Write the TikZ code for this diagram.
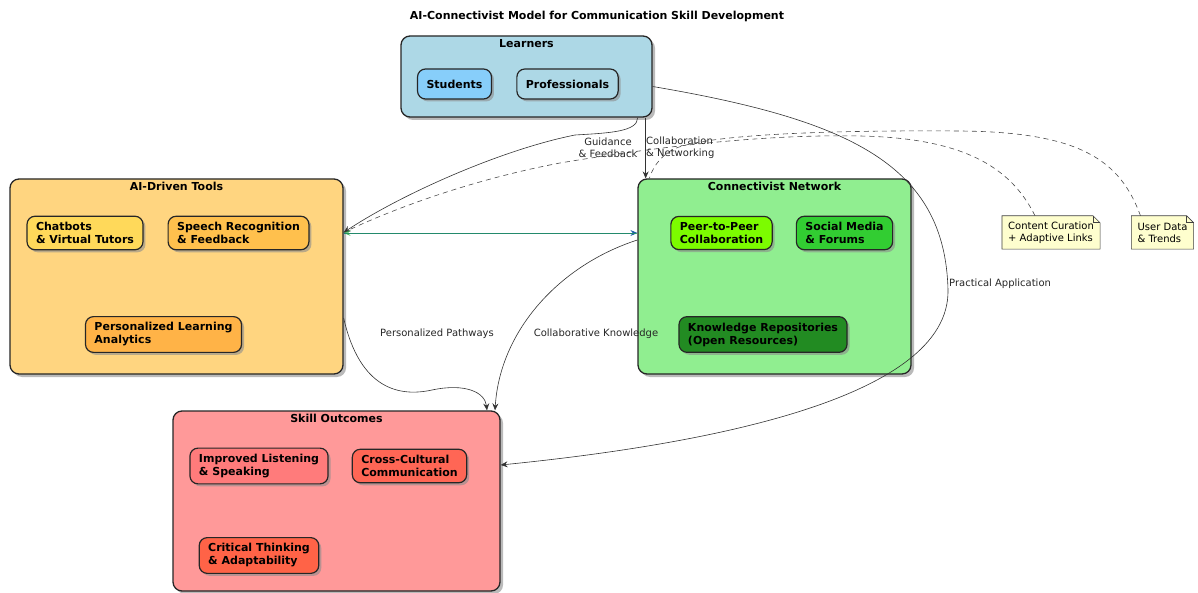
\documentclass[tikz,border=0pt]{standalone}
\usepackage{fontspec}
\setmainfont{DejaVu Sans}
\usetikzlibrary{arrows.meta, positioning, shadows}

\definecolor{learnbg}{HTML}{ADD8E6}
\definecolor{studentfill}{HTML}{87CEFA}
\definecolor{toolbg}{HTML}{FFD580}
\definecolor{chatfill}{HTML}{FFD95A}
\definecolor{speechfill}{HTML}{FFC04D}
\definecolor{analyticsfill}{HTML}{FFB347}
\definecolor{netbg}{HTML}{90EE90}
\definecolor{peerfill}{HTML}{7CFC00}
\definecolor{socialfill}{HTML}{32CD32}
\definecolor{repofill}{HTML}{228B22}
\definecolor{skillbg}{HTML}{FF9999}
\definecolor{listenfill}{HTML}{FF7B7B}
\definecolor{crossfill}{HTML}{FF6655}
\definecolor{critfill}{HTML}{FF6347}
\definecolor{notebg}{HTML}{FEFECE}
\definecolor{linkblue}{HTML}{1F5FA8}
\definecolor{linkgreen}{HTML}{27A844}

\tikzset{
  group/.style={draw=black!85, line width=1.3pt, rounded corners=9pt,
    drop shadow={shadow xshift=3pt, shadow yshift=-3pt, fill=black!45, opacity=0.6}},
  grouptitle/.style={font=\fontsize{11}{13}\selectfont\bfseries, anchor=north, inner sep=0pt},
  item/.style={draw=black!85, line width=1.2pt, rounded corners=8pt, align=left,
    font=\fontsize{11}{13}\selectfont\bfseries, inner xsep=9pt, inner ysep=6pt,
    minimum height=30pt,
    drop shadow={shadow xshift=2.5pt, shadow yshift=-2.5pt, fill=black!45, opacity=0.6}},
  lbl/.style={font=\fontsize{10}{12}\selectfont, align=center, inner sep=1pt, text=black!85},
  link/.style={draw=black!80, line width=0.6pt, -{Stealth[length=7pt,width=6pt,inset=2.5pt]}},
  notelink/.style={draw=black!70, line width=0.6pt, dash pattern=on 5pt off 4pt},
  notebox/.style={align=left, font=\fontsize{10}{12}\selectfont, inner xsep=6pt, inner ysep=4pt,
    minimum height=33pt}
}

\begin{document}
\begin{tikzpicture}[x=1pt, y=-1pt]
\useasboundingbox (0,0) rectangle (1198,593);

% Title
\node[font=\fontsize{11}{13}\selectfont\bfseries] (title) at (597,16)
  {AI-Connectivist Model for Communication Skill Development};

% Groups
\node[group, fill=learnbg, minimum width=251pt, minimum height=81pt] (learners) at (526.5,76.5) {};
\node[grouptitle, below=4pt of learners.north] (learnerst) {Learners};
\node[group, fill=toolbg, minimum width=333pt, minimum height=195pt] (tools) at (176.5,276.5) {};
\node[grouptitle, below=4pt of tools.north] (toolst) {AI-Driven Tools};
\node[group, fill=netbg, minimum width=273pt, minimum height=195pt] (network) at (774.5,276.5) {};
\node[grouptitle, below=4pt of network.north] (networkt) {Connectivist Network};
\node[group, fill=skillbg, minimum width=327pt, minimum height=180pt] (outcomes) at (336.5,501) {};
\node[grouptitle, below=4pt of outcomes.north] (outcomest) {Skill Outcomes};

% Learners
\node[item, fill=studentfill] (students) at (454.5,84) {Students};
\node[item, fill=learnbg] (professionals) at (567.5,84) {Professionals};

% AI-driven tools
\node[item, fill=chatfill] (chatbots) at (85,233) {Chatbots\\\& Virtual Tutors};
\node[item, fill=speechfill] (speech) at (238.5,233) {Speech Recognition\\\& Feedback};
\node[item, fill=analyticsfill] (analytics) at (163.5,334.5) {Personalized Learning\\Analytics};

% Connectivist network
\node[item, fill=peerfill] (peer) at (721.5,233) {Peer-to-Peer\\Collaboration};
\node[item, fill=socialfill] (social) at (844.5,233) {Social Media\\\& Forums};
\node[item, fill=repofill] (repos) at (763,334.5) {Knowledge Repositories\\(Open Resources)};

% Skill outcomes
\node[item, fill=listenfill] (listening) at (259,466) {Improved Listening\\\& Speaking};
\node[item, fill=crossfill] (crosscult) at (409.5,466) {Cross-Cultural\\Communication};
\node[item, fill=critfill] (critical) at (259,555.5) {Critical Thinking\\\& Adaptability};

% Notes
\node[notebox] (curation) at (1051,232.5) {Content Curation\\+ Adaptive Links};
\node[notebox] (userdata) at (1162.5,232.5) {User Data\\\& Trends};
\foreach \n in {curation, userdata} {
  \draw[draw=black!75, line width=0.6pt, fill=notebg]
    (\n.south west) -- (\n.north west) -- ([xshift=-7pt]\n.north east)
    -- ([yshift=-7pt]\n.north east) -- (\n.south east) -- cycle;
  \draw[draw=black!75, line width=0.6pt]
    ([xshift=-7pt]\n.north east) |- ([yshift=-7pt]\n.north east);
}
\node[notebox] at (curation) {Content Curation\\+ Adaptive Links};
\node[notebox] at (userdata) {User Data\\\& Trends};

% Note links
\draw[notelink] ([xshift=-16pt]curation.north) .. controls (1010,165) and (960,138) .. (860,136)
  .. controls (760,134) and (650,148) .. (560,163)
  .. controls (470,180) and (390,210) .. ([yshift=44pt]tools.east);
\draw[notelink] ([xshift=-22pt]userdata.north) .. controls (1120,160) and (1080,132) .. (960,131)
  .. controls (820,130) and (700,135) .. (672,150)
  .. controls (658,158) and (652,170) .. ([xshift=12pt]network.north west);

% Connectors
\draw[link] ([xshift=-15pt]learners.south east) .. controls +(0,14) and +(35,-2) .. (575,135)
  .. controls (500,150) and (400,195) .. ([yshift=44pt]tools.east);
\draw[link] ([xshift=-7pt]learners.south east) -- ([xshift=-7pt]learners.south east |- network.north);
\draw[link] ([yshift=-10pt]learners.east) .. controls (850,120) and (945,165) .. (948,290)
  .. controls (950,400) and (700,445) .. ([yshift=36pt]outcomes.east);
\draw[link, draw=linkblue, -{Stealth[length=7pt,width=6pt,inset=2.5pt,fill=linkblue]}]
  ([yshift=43.5pt]tools.east) -- ([yshift=43.5pt]tools.east -| network.west);
\draw[link, draw=linkgreen, -{Stealth[length=7pt,width=6pt,inset=2.5pt,fill=linkgreen]}, opacity=0.6]
  ([yshift=43.5pt]tools.east -| network.west) -- ([yshift=43.5pt]tools.east);
\draw[link] ([yshift=-41.5pt]tools.east) .. controls (360,390) and (400,397) .. (432,390)
  .. controls (465,383) and (485,392) .. ([xshift=150.5pt]outcomes.north);
\draw[link] ([yshift=36.5pt]network.west) .. controls (560,265) and (500,330) .. ([xshift=158.5pt]outcomes.north);

% Connector labels
\node[lbl] (lguidance) at (608,148) {Guidance\\\& Feedback};
\node[lbl, align=left, anchor=west] (lcollab) at (645,148) {Collaboration\\\& Networking};
\node[lbl, anchor=west] (lpractical) at (948,284) {Practical Application};
\node[lbl] (lpathways) at (437,334) {Personalized Pathways};
\node[lbl] (lknowledge) at (596,334) {Collaborative Knowledge};
\end{tikzpicture}
\end{document}
